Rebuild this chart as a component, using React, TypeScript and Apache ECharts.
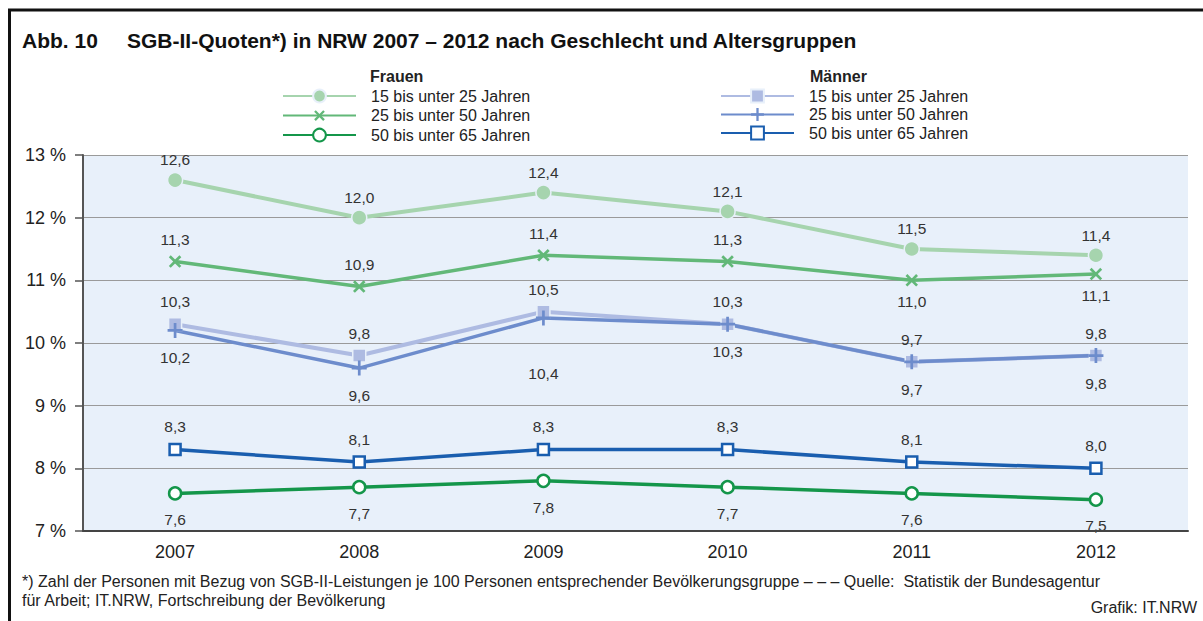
import React, { useEffect, useRef } from "react";
import * as echarts from "echarts";

const years = ["2007", "2008", "2009", "2010", "2011", "2012"];
const frauen15 = [12.6, 12.0, 12.4, 12.1, 11.5, 11.4];
const frauen25 = [11.3, 10.9, 11.4, 11.3, 11.0, 11.1];
const frauen50 = [7.6, 7.7, 7.8, 7.7, 7.6, 7.5];
const maenner15 = [10.3, 9.8, 10.5, 10.3, 9.7, 9.8];
const maenner25 = [10.2, 9.6, 10.4, 10.3, 9.7, 9.8];
const maenner50 = [8.3, 8.1, 8.3, 8.3, 8.1, 8.0];
const frauen25LabelPos = ["top", "top", "top", "top", "bottom", "bottom"];
const yTicks = [7, 8, 9, 10, 11, 12, 13];
const itemNames = [
  "15 bis unter 25 Jahren",
  "25 bis unter 50 Jahren",
  "50 bis unter 65 Jahren",
];

const FONT = "Liberation Sans, Arial, sans-serif";
const BG = "#e8f0fa";
const PLUS = "path://M4.1,0H5.9V4.1H10V5.9H5.9V10H4.1V5.9H0V4.1H4.1Z";

export default function App() {
  const ref = useRef<HTMLDivElement>(null);
  useEffect(() => {
    if (!ref.current) return;
    const chart = echarts.init(ref.current, undefined, { renderer: "svg" });
    const fmt = (p: any) =>
      String(p.value).includes(".") ? String(p.value).replace(".", ",") : p.value + ",0";
    const label = (pos: string, distance: number) => ({
      show: true,
      position: pos,
      distance,
      fontSize: 15.5,
      fontFamily: FONT,
      color: "#333",
      formatter: fmt,
    });
    const mk = (
      id: string,
      name: string,
      data: any[],
      color: string,
      width: number,
      symbol: string,
      size: number,
      itemStyle: any,
      pos: string,
      distance: number,
      rotate = 0
    ) => ({
      id,
      name,
      type: "line",
      data,
      symbol,
      symbolSize: size,
      symbolRotate: rotate,
      showAllSymbol: true,
      lineStyle: { color, width },
      itemStyle,
      label: label(pos, distance),
      z: 3,
    });
    const fLabels = frauen25.map((v, i) => ({
      value: v,
      label: { position: frauen25LabelPos[i] },
    }));
    // the 2009 label of the 25–50 men series sits below the 10 % gridline
    const m25Data = maenner25.map((v, i) =>
      i === 2 ? { value: v, label: { distance: 40 } } : v
    );
    const series: any[] = [
      mk("f15", "F15", frauen15, "#a6d4ae", 4, "circle", 15,
        { color: "#a6d4ae", borderColor: BG, borderWidth: 1.5 }, "top", 4),
      mk("f25", "F25", fLabels, "#62b878", 3.5, PLUS, 15,
        { color: "#62b878" }, "top", 3, 45),
      mk("f50", "F50", frauen50, "#14964a", 3.5, "circle", 12,
        { color: "#ffffff", borderColor: "#14964a", borderWidth: 2.5 }, "bottom", 11),
      mk("m15", "M15", maenner15, "#aebbe2", 4, "rect", 13,
        { color: "#aebbe2", borderColor: BG, borderWidth: 1.5 }, "top", 7),
      mk("m25", "M25", m25Data, "#6d8ccc", 3.5, PLUS, 15,
        { color: "#6d8ccc" }, "bottom", 12),
      mk("m50", "M50", maenner50, "#1a5eaf", 3.5, "rect", 11,
        { color: "#ffffff", borderColor: "#1a5eaf", borderWidth: 2.5 }, "top", 8),
    ];
    const legendBase = {
      orient: "vertical",
      top: 83,
      itemWidth: 73,
      itemHeight: 16,
      itemGap: 2.5,
      selectedMode: false,
      textStyle: { fontSize: 16, fontFamily: FONT, color: "#222", padding: [0, 0, 0, 10] },
    };
    chart.setOption({
      animation: false,
      textStyle: { fontFamily: FONT },
      grid: {
        left: 83,
        right: 15,
        top: 155,
        bottom: 90,
        show: true,
        backgroundColor: BG,
        borderWidth: 0,
      },
      legend: [
        {
          ...legendBase,
          left: 277,
          data: ["F15", "F25", "F50"],
          formatter: (n: string) => itemNames[["F15", "F25", "F50"].indexOf(n)],
        },
        {
          ...legendBase,
          left: 715,
          data: ["M15", "M25", "M50"],
          formatter: (n: string) => itemNames[["M15", "M25", "M50"].indexOf(n)],
        },
      ],
      xAxis: {
        type: "category",
        data: years,
        boundaryGap: true,
        axisTick: { show: false },
        axisLine: { lineStyle: { color: "#444", width: 2 } },
        axisLabel: { fontSize: 18, color: "#222", margin: 12, fontFamily: FONT },
        z: 5,
      },
      yAxis: {
        type: "value",
        min: yTicks[0],
        max: yTicks[yTicks.length - 1],
        interval: 1,
        axisLine: { show: true, lineStyle: { color: "#555", width: 2 } },
        axisTick: { show: true, length: 8, lineStyle: { color: "#555", width: 1.5 } },
        axisLabel: {
          fontSize: 18,
          color: "#222",
          margin: 17,
          fontFamily: FONT,
          formatter: "{value} %",
        },
        splitLine: { lineStyle: { color: "#9a9a9a", width: 1.2 } },
      },
      graphic: [
        { type: "line", shape: { x1: 8, y1: 10, x2: 1203, y2: 10 }, style: { stroke: "#111", lineWidth: 3 } },
        { type: "line", shape: { x1: 9.5, y1: 10, x2: 9.5, y2: 621 }, style: { stroke: "#111", lineWidth: 3 } },
        {
          type: "text", left: 22, top: 29.5,
          style: { text: "Abb. 10", font: `bold 21px ${FONT}`, fill: "#111" },
        },
        {
          type: "text", left: 127, top: 29.5,
          style: {
            text: "SGB-II-Quoten*) in NRW 2007 – 2012 nach Geschlecht und Altersgruppen",
            font: `bold 21px ${FONT}`, fill: "#111",
          },
        },
        {
          type: "text", left: 370, top: 68,
          style: { text: "Frauen", font: `bold 16px ${FONT}`, fill: "#222" },
        },
        {
          type: "text", left: 810, top: 68,
          style: { text: "Männer", font: `bold 16px ${FONT}`, fill: "#222" },
        },
        {
          type: "text", left: 22, top: 573,
          style: {
            text: "*) Zahl der Personen mit Bezug von SGB-II-Leistungen je 100 Personen entsprechender Bevölkerungsgruppe – – – Quelle:  Statistik der Bundesagentur",
            font: `16px ${FONT}`, fill: "#222",
          },
        },
        {
          type: "text", left: 22, top: 592,
          style: {
            text: "für Arbeit; IT.NRW, Fortschreibung der Bevölkerung",
            font: `16px ${FONT}`, fill: "#222",
          },
        },
        {
          type: "text", right: 6, top: 599,
          style: { text: "Grafik: IT.NRW", font: `16px ${FONT}`, fill: "#222" },
        },
      ],
      series,
    });
    return () => chart.dispose();
  }, []);
  return (
    <div
      ref={ref}
      style={{ position: "absolute", left: 0, top: 0, width: 1203, height: 621, background: "#fff" }}
    />
  );
}
